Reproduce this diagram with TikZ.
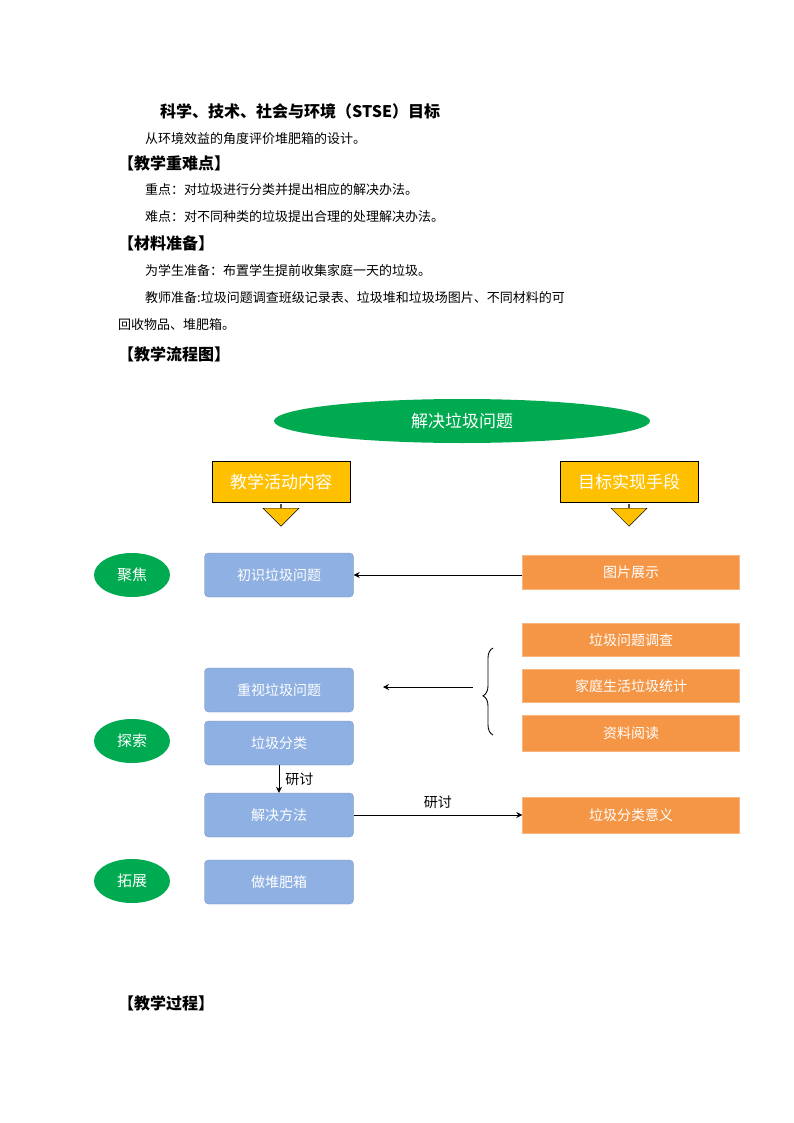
\documentclass[tikz,border=0pt]{standalone}
\usepackage{fontspec}
\setmainfont{Noto Sans CJK SC}
\newfontfamily\cjk{Noto Sans CJK SC}
\usetikzlibrary{shapes.geometric,shapes.arrows,arrows.meta,decorations.pathreplacing}
\definecolor{gr}{RGB}{0,170,80}
\definecolor{yl}{RGB}{255,192,0}
\definecolor{bl}{RGB}{142,176,226}
\definecolor{og}{RGB}{245,150,70}
\begin{document}
\begin{tikzpicture}[x=1pt,y=-1pt,
 body/.style={anchor=west,inner sep=0,font=\fontsize{13}{13}\selectfont},
 head/.style={anchor=west,inner sep=0,font=\fontsize{16}{16}\selectfont\bfseries},
 ell/.style={ellipse,fill=gr,text=white,inner sep=0,font=\fontsize{15}{15}\selectfont},
 yb/.style={draw=black,fill=yl,text=white,minimum width=138,minimum height=41,inner sep=0,font=\fontsize{17}{17}\selectfont},
 blb/.style={fill=bl,draw=bl!80!black,line width=0.3pt,rounded corners=4,text=white,minimum width=149,minimum height=44,inner sep=0,font=\fontsize{14}{14}\selectfont},
 ob/.style={fill=og,draw=og!70!white,text=white,minimum width=217,inner sep=0,font=\fontsize{14}{14}\selectfont},
 ar/.style={-{Stealth[length=6,width=6]},line width=0.8pt},
 lbl/.style={inner sep=0,font=\fontsize{14}{14}\selectfont}]
\useasboundingbox (0,0) rectangle (794,1123);
\node[head] (t1) at (160,111) {科学、技术、社会与环境（STSE）目标};
\node[body] (t2) at (145,139) {从环境效益的角度评价堆肥箱的设计。};
\node[head] (t3) at (118,163) {【教学重难点】};
\node[body] (t4) at (145,190) {重点：对垃圾进行分类并提出相应的解决办法。};
\node[body] (t5) at (145,217) {难点：对不同种类的垃圾提出合理的处理解决办法。};
\node[head] (t6) at (118,243) {【材料准备】};
\node[body] (t7) at (145,271) {为学生准备：布置学生提前收集家庭一天的垃圾。};
\node[body] (t8) at (145,298) {教师准备:垃圾问题调查班级记录表、垃圾堆和垃圾场图片、不同材料的可};
\node[body] (t9) at (118,325) {回收物品、堆肥箱。};
\node[head] (t10) at (118,354) {【教学流程图】};
\node[head] (t11) at (118,1003) {【教学过程】};

\node[ell,minimum width=376,minimum height=44,font=\fontsize{17}{17}\selectfont] (top) at (462,421) {解决垃圾问题};
\node[yb] (y1) at (281,482) {教学活动内容};
\node[yb] (y2) at (629,482) {目标实现手段};
\foreach \n/\x in {a1/281,a2/629}{
 \node[single arrow,shape border rotate=270,draw=black,fill=yl,minimum width=36,minimum height=22,single arrow head extend=8,single arrow tip angle=90,inner sep=0,line width=0.4pt] (\n) at (\x,515) {};}

\node[ell,minimum width=76,minimum height=44] (e1) at (132,575) {聚焦};
\node[ell,minimum width=76,minimum height=44] (e2) at (132,741) {探索};
\node[ell,minimum width=76,minimum height=44] (e3) at (132,881) {拓展};

\node[blb] (b1) at (279,575) {初识垃圾问题};
\node[blb] (b2) at (279,690) {重视垃圾问题};
\node[blb] (b3) at (279,743) {垃圾分类};
\node[blb] (b4) at (279,815) {解决方法};
\node[blb] (b5) at (279,882) {做堆肥箱};

\node[ob,minimum height=34] (o1) at (631,572) {图片展示};
\node[ob,minimum height=33] (o2) at (631,640) {垃圾问题调查};
\node[ob,minimum height=33] (o3) at (631,686) {家庭生活垃圾统计};
\node[ob,minimum height=36] (o4) at (631,733) {资料阅读};
\node[ob,minimum height=36] (o5) at (631,815) {垃圾分类意义};

\draw[ar] (o1.west |- b1.east) -- (b1.east);
\coordinate (bt) at (493,648);
\coordinate (bb) at (493,735);
\draw[line width=0.9pt,decorate,decoration={brace,amplitude=10,aspect=0.45}] (bb) -- (bt) coordinate[pos=0.45] (bm);
\coordinate (bl) at (473,687);
\coordinate (be) at (383,687);
\draw[ar] (bl) -- (be);
\draw[ar] (b3.south) -- (b4.north) node[midway,right=6,lbl] (l1) {研讨};
\draw[ar] (b4.east) -- (o5.west) node[midway,above=6,lbl] (l2) {研讨};
\end{tikzpicture}
\end{document}
